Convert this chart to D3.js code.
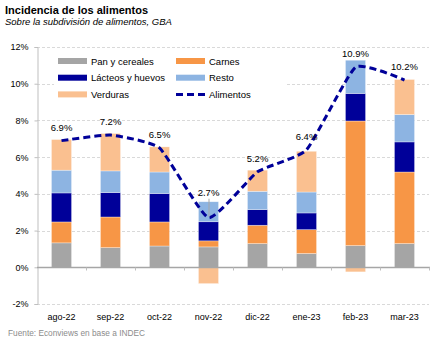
<!DOCTYPE html>
<html>
<head>
<meta charset="utf-8">
<script src="https://cdn.jsdelivr.net/npm/d3@7"></script>
<style>
  body { margin: 0; background: #fff; }
  text { font-family: "Liberation Sans", Arial, sans-serif; }
</style>
</head>
<body>
<div id="chart"></div>
<script>
(function(){
  // Months and contributions by food group (percentage points)
  const months = ["ago-22", "sep-22", "oct-22", "nov-22", "dic-22", "ene-23", "feb-23", "mar-23"];
  const pan = [1.33, 1.07, 1.16, 1.11, 1.29, 0.75, 1.18, 1.29];
  const carnes = [1.14, 1.67, 1.31, 0.33, 1.00, 1.30, 6.79, 3.90];
  const lacteos = [1.58, 1.33, 1.55, 1.04, 0.85, 0.91, 1.50, 1.64];
  const resto = [1.24, 1.18, 1.17, 1.09, 1.00, 1.14, 1.81, 1.49];
  const verduras = [1.67, 2.04, 1.37, -0.89, 1.15, 2.22, -0.25, 1.91];
  // Total food inflation
  const alimentos = [6.9, 7.2, 6.5, 2.7, 5.2, 6.4, 10.9, 10.2];
  const yTicks = [-2, 0, 2, 4, 6, 8, 10, 12];

  const series = [
    { key: "pan", name: "Pan y cereales", color: "#a5a5a5", values: pan },
    { key: "carnes", name: "Carnes", color: "#f79646", values: carnes },
    { key: "lacteos", name: "Lácteos y huevos", color: "#000099", values: lacteos },
    { key: "resto", name: "Resto", color: "#8db4e2", values: resto },
    { key: "verduras", name: "Verduras", color: "#fac090", values: verduras }
  ];
  const lineColor = "#000099";

  const width = 443, height = 340;
  const plot = { left: 37, right: 429, top: 47, bottom: 304 };

  const table = months.map((m, i) => {
    const row = { month: m };
    series.forEach(s => row[s.key] = s.values[i]);
    return row;
  });

  const svg = d3.select("#chart").append("svg")
    .attr("width", width)
    .attr("height", height);

  // Title and subtitle
  svg.append("text").attr("x", 5).attr("y", 14)
    .style("font-size", "11px").style("font-weight", "bold").attr("fill", "#000")
    .text("Incidencia de los alimentos");
  svg.append("text").attr("x", 5).attr("y", 25)
    .style("font-size", "9.5px").style("font-style", "italic").attr("fill", "#000")
    .text("Sobre la subdivisión de alimentos, GBA");

  const x = d3.scaleBand().domain(months).range([plot.left, plot.right]).padding(0);
  const y = d3.scaleLinear().domain([-2, 12]).range([plot.bottom, plot.top]);
  const barW = x.bandwidth() * 0.41;

  // Gridlines
  svg.append("g").selectAll("line")
    .data(yTicks.filter(t => t !== 0))
    .enter().append("line")
    .attr("x1", plot.left).attr("x2", plot.right)
    .attr("y1", d => Math.round(y(d)) + 0.5).attr("y2", d => Math.round(y(d)) + 0.5)
    .attr("stroke", "#d9d9d9").attr("stroke-dasharray", "3,2");

  // Y axis
  const yAxis = svg.append("g")
    .attr("transform", `translate(${plot.left + 0.5},0)`)
    .call(d3.axisLeft(y).tickValues(yTicks).tickSize(3).tickPadding(6).tickFormat(d => d + "%"));
  yAxis.select(".domain").attr("stroke", "#bfbfbf");
  yAxis.selectAll(".tick line").attr("stroke", "#bfbfbf");
  yAxis.selectAll("text").style("font-size", "9px").attr("fill", "#000")
    .style("font-family", "'Liberation Sans', Arial, sans-serif");

  // Legend box (white background over the gridlines)
  const legend = svg.append("g");
  legend.append("rect").attr("x", 54).attr("y", 51).attr("width", 232).attr("height", 53).attr("fill", "#fff");
  const legendItems = series.map(s => ({ name: s.name, color: s.color, type: "bar" }));
  legendItems.push({ name: "Alimentos", color: lineColor, type: "line" });
  legendItems.forEach((d, i) => {
    const col = i % 2, row = Math.floor(i / 2);
    const lx = col === 0 ? 58 : 176;
    const ly = 61 + row * 16.7;
    if (d.type === "bar") {
      legend.append("rect").attr("x", lx).attr("y", ly - 3).attr("width", 29).attr("height", 6).attr("fill", d.color);
    } else {
      legend.append("line").attr("x1", lx).attr("x2", lx + 29).attr("y1", ly).attr("y2", ly)
        .attr("stroke", d.color).attr("stroke-width", 3).attr("stroke-dasharray", "7,4");
    }
    legend.append("text").attr("x", lx + 33).attr("y", ly + 3.5)
      .style("font-size", "9.5px").attr("fill", "#000").text(d.name);
  });

  // Stacked bars
  const stacked = d3.stack().keys(series.map(s => s.key)).offset(d3.stackOffsetDiverging)(table);
  svg.append("g").selectAll("g")
    .data(stacked)
    .enter().append("g")
    .attr("fill", (d, i) => series[i].color)
    .selectAll("rect")
    .data(d => d)
    .enter().append("rect")
    .attr("x", d => x(d.data.month) + (x.bandwidth() - barW) / 2)
    .attr("y", d => y(d[1]))
    .attr("width", barW)
    .attr("height", d => y(d[0]) - y(d[1]))
    .attr("stroke", "#ffffff").attr("stroke-opacity", 0.55).attr("stroke-width", 0.6);

  // X axis at zero
  const xAxis = svg.append("g")
    .attr("transform", `translate(0,${Math.round(y(0)) + 0.5})`);
  xAxis.append("line").attr("x1", plot.left).attr("x2", plot.right + 1)
    .attr("stroke", "#a6a6a6").attr("stroke-width", 1.5);
  xAxis.selectAll(".tk")
    .data(months)
    .enter().append("line")
    .attr("x1", d => Math.round(x(d) + x.bandwidth()) + 0.5)
    .attr("x2", d => Math.round(x(d) + x.bandwidth()) + 0.5)
    .attr("y1", 0).attr("y2", 3)
    .attr("stroke", "#bfbfbf");

  // Category labels at the bottom
  svg.append("g").selectAll("text")
    .data(months)
    .enter().append("text")
    .attr("x", d => x(d) + x.bandwidth() / 2)
    .attr("y", 320)
    .attr("text-anchor", "middle")
    .style("font-size", "9px").attr("fill", "#000")
    .text(d => d);

  // Alimentos line, lightly smoothed
  const pts = months.map((m, i) => ({ month: m, v: alimentos[i] }));
  const line = d3.line()
    .x(d => x(d.month) + x.bandwidth() / 2)
    .y(d => y(d.v))
    .curve(d3.curveCardinal.tension(0.55));
  svg.append("path").datum(pts)
    .attr("d", line)
    .attr("fill", "none")
    .attr("stroke", lineColor)
    .attr("stroke-width", 3)
    .attr("stroke-dasharray", "7,4");

  // Value labels (nov-22 is lifted with a leader line)
  const labels = svg.append("g");
  pts.forEach(d => {
    const cx = x(d.month) + x.bandwidth() / 2;
    const lifted = d.month === "nov-22";
    const by = y(d.v) - (lifted ? 22 : 10);
    if (lifted) {
      labels.append("line").attr("x1", cx + 0.5).attr("x2", cx + 0.5)
        .attr("y1", by + 3).attr("y2", y(d.v) - 1)
        .attr("stroke", "#a6a6a6");
    }
    labels.append("text").attr("x", cx).attr("y", by)
      .attr("text-anchor", "middle")
      .style("font-size", "9.5px").attr("fill", "#000")
      .text(d3.format(".1f")(d.v) + "%");
  });

  // Source
  svg.append("text").attr("x", 8).attr("y", 336)
    .style("font-size", "8.3px").attr("fill", "#8c8c8c")
    .text("Fuente: Econviews en base a INDEC");
})();
</script>
</body>
</html>
